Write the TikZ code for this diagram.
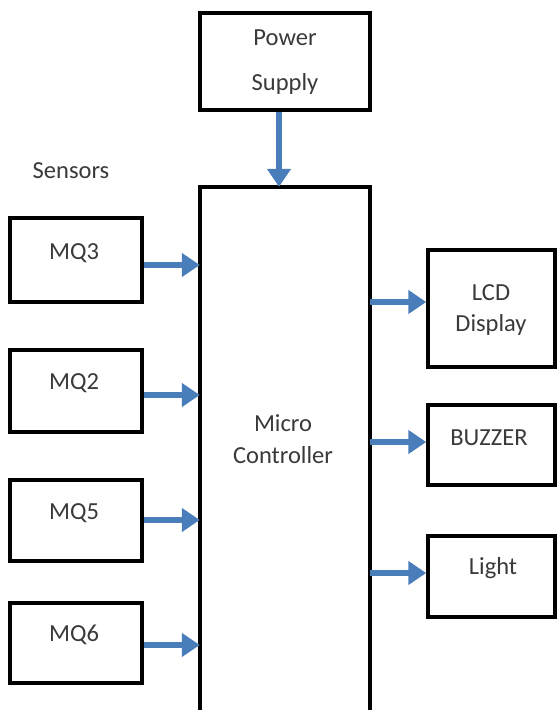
\documentclass[tikz,border=0pt]{standalone}
\usepackage{fontspec}
\setmainfont{Carlito}
\usetikzlibrary{arrows.meta}
\definecolor{arrowblue}{HTML}{4A7EBB}
\definecolor{txtgray}{HTML}{3A3A3A}
\tikzset{
  box/.style={draw=black, line width=3.5pt, inner sep=0pt, rectangle},
  lbl/.style={text=txtgray, font=\fontsize{24.5}{28}\selectfont, inner sep=0pt},
  flow/.style={draw=arrowblue, line width=6.5pt, -{Triangle[width=23pt,length=18pt]}}
}
\begin{document}
\begin{tikzpicture}[x=1pt,y=-1pt]
\clip (0,0) rectangle (557,710);
\fill[white] (0,0) rectangle (557,710);
% boxes
\node[box, minimum width=170pt, minimum height=97pt] (power) at (285,61.5) {};
\node[inner sep=0pt, minimum width=170pt, minimum height=540pt] (micro) at (285,457) {};
\draw[line width=3.5pt] (200,720) -- (200,187) -- (370,187) -- (370,720);
\node[box, minimum width=132pt, minimum height=84pt] (mq3) at (76,260) {};
\node[box, minimum width=132pt, minimum height=82pt] (mq2) at (76,391) {};
\node[box, minimum width=132pt, minimum height=81pt] (mq5) at (76,520.5) {};
\node[box, minimum width=132pt, minimum height=80pt] (mq6) at (76,643) {};
\node[box, minimum width=127pt, minimum height=117pt] (lcd) at (491.5,308.5) {};
\node[box, minimum width=127pt, minimum height=80pt] (buzz) at (491.5,445) {};
\node[box, minimum width=127pt, minimum height=81pt] (light) at (491.5,576.5) {};
% texts
\node[lbl] (tpow1) at (285,38) {Power};
\node[lbl] (tpow2) at (285,84) {Supply};
\node[lbl] (tsens) at (71,171) {Sensors};
\node[lbl] (tmq3) at (74,253) {MQ3};
\node[lbl] (tmq2) at (74,383) {MQ2};
\node[lbl] (tmq5) at (74,513) {MQ5};
\node[lbl] (tmq6) at (74,635) {MQ6};
\node[lbl] (tmic1) at (283,423) {Micro};
\node[lbl] (tmic2) at (283,455) {Controller};
\node[lbl] (tlcd1) at (491,293) {LCD};
\node[lbl] (tlcd2) at (491,325) {Display};
\node[lbl] (tbuzz) at (489,438) {BUZZER};
\node[lbl] (tlight) at (493,568) {Light};
% arrows
\draw[flow] (power.south -| 279,0) -- (micro.north -| 279,0);
\draw[flow] (mq3.east |- 0,265) -- (micro.west |- 0,265);
\draw[flow] (mq2.east |- 0,395) -- (micro.west |- 0,395);
\draw[flow] (mq5.east |- 0,520) -- (micro.west |- 0,520);
\draw[flow] (mq6.east |- 0,645) -- (micro.west |- 0,645);
\draw[flow] (micro.east |- 0,302) -- (lcd.west |- 0,302);
\draw[flow] (micro.east |- 0,442) -- (buzz.west |- 0,442);
\draw[flow] (micro.east |- 0,573) -- (light.west |- 0,573);
\end{tikzpicture}
\end{document}
